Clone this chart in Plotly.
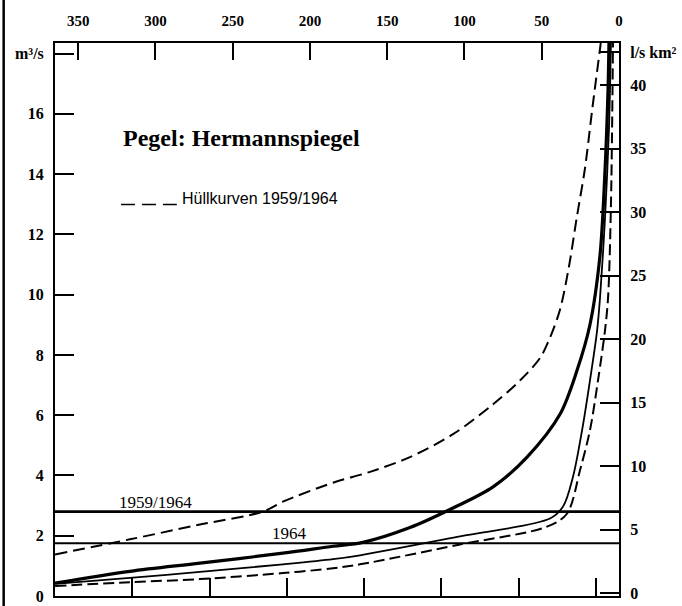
import plotly.graph_objects as go

# ---- data (x = Tage / days, counted from the right edge as on the top axis; y = Abfluss m³/s)
DAYS = 365

upper_env_days = [365, 316.5, 271.2, 230.4, 217.5, 185.1, 161.1, 135.3, 107.4, 81.5, 64.1,
                  51.1, 44.7, 38.2, 32.5, 27.2, 22.0, 17.2, 11.8]
upper_env_q = [1.38, 1.88, 2.37, 2.80, 3.13, 3.76, 4.12, 4.61, 5.37, 6.36, 7.15,
               7.90, 8.57, 9.50, 10.9, 12.6, 14.2, 16.2, 18.35]

curve_1959_64_days = [365, 316.5, 271.2, 217.5, 185.1, 165.7, 135.3, 109.4, 81.5, 59.5,
                      38.2, 27.2, 18.8, 12.3, 9.1, 7.1, 6.5]
curve_1959_64_q = [0.43, 0.82, 1.09, 1.42, 1.65, 1.78, 2.27, 2.87, 3.62, 4.61,
                   6.03, 7.48, 9.00, 11.3, 14.07, 16.8, 18.35]

curve_1964_days = [365, 316.5, 271.2, 217.5, 185.1, 167.6, 102.9, 44.7, 36.2, 29.8,
                   23.9, 18.8, 14.2, 12.3, 9.1, 6.5, 5.2]
curve_1964_q = [0.40, 0.60, 0.80, 1.05, 1.22, 1.35, 1.98, 2.57, 2.97, 3.95,
                5.50, 7.15, 8.80, 9.88, 12.5, 15.5, 18.35]

lower_env_days = [365, 316.5, 271.2, 217.5, 185.1, 167.6, 102.9, 46.6, 33.7, 25.2,
                  18.8, 13.6, 9.1, 7.1, 5.2, 3.9]
lower_env_q = [0.33, 0.46, 0.56, 0.76, 0.92, 1.05, 1.71, 2.30, 2.73, 4.18,
               5.50, 7.15, 8.80, 9.88, 13.0, 18.35]

mq_1959_64 = 2.80   # Mittelwasser 1959/1964
mq_1964 = 1.75      # Mittelwasser 1964

top_tick_vals = [350, 300, 250, 200, 150, 100, 50, 0]
top_tick_text = ["350", "300", "250", "200", "150", "100", "50", "0"]
bottom_tick_vals = [315, 265, 215, 165, 115, 65, 15]
left_tick_vals = [0, 2, 4, 6, 8, 10, 12, 14, 16, 18]
left_tick_text = ["0", "2", "4", "6", "8", "10", "12", "14", "16", "m³/s"]
right_tick_vals = [0, 5, 10, 15, 20, 25, 30, 35, 40, 42.6]
right_tick_text = ["0", "5", "10", "15", "20", "25", "30", "35", "40", "l/s km²"]

Y_RANGE = [0, 18.35]
Y2_RANGE = [-0.2, 43.3]

title_text = "Pegel: Hermannspiegel"
legend_text = "Hüllkurven 1959/1964"

# ---- figure
serif = "Liberation Serif"
tickfont = dict(family=serif, size=16, color="black", weight="bold")
smooth = dict(shape="spline", smoothing=0.9)

fig = go.Figure()
line_days = [DAYS, 0]
fig.add_trace(go.Scatter(x=line_days, y=[mq_1959_64, mq_1959_64], mode="lines",
                         line=dict(color="black", width=2.6), hoverinfo="skip"))
fig.add_trace(go.Scatter(x=line_days, y=[mq_1964, mq_1964], mode="lines",
                         line=dict(color="black", width=2.2), hoverinfo="skip"))
fig.add_trace(go.Scatter(x=upper_env_days, y=upper_env_q, mode="lines",
                         line=dict(color="black", width=2.0, dash="12px,6px", **smooth)))
fig.add_trace(go.Scatter(x=lower_env_days, y=lower_env_q, mode="lines",
                         line=dict(color="black", width=2.0, dash="11px,5px", **smooth)))
fig.add_trace(go.Scatter(x=curve_1964_days, y=curve_1964_q, mode="lines",
                         line=dict(color="black", width=1.8, **smooth)))
fig.add_trace(go.Scatter(x=curve_1959_64_days, y=curve_1959_64_q, mode="lines",
                         line=dict(color="black", width=3.2, **smooth)))
# invisible helper trace so the top (days) and right (l/s km²) axes are drawn
fig.add_trace(go.Scatter(x=[DAYS, 0], y=Y2_RANGE, xaxis="x2", yaxis="y2", mode="markers",
                         marker=dict(opacity=0), hoverinfo="skip"))

fig.update_layout(
    width=682, height=606,
    margin=dict(l=55, r=63, t=43, b=10, autoexpand=False),
    paper_bgcolor="white", plot_bgcolor="white",
    showlegend=False,
    xaxis=dict(range=[DAYS, 0], tickvals=bottom_tick_vals, ticks="inside", ticklen=18,
               tickwidth=1.5, tickcolor="black", showticklabels=False, showgrid=False,
               automargin=False,
               zeroline=False, showline=True, linecolor="black", linewidth=2),
    xaxis2=dict(range=[DAYS, 0], overlaying="x", side="top", anchor="y2",
                tickvals=top_tick_vals, ticktext=top_tick_text, ticks="inside", ticklen=17,
                tickwidth=1.5, tickcolor="black", tickfont=dict(family=serif, size=15,
                color="black", weight="bold"), ticklabelstandoff=9, showgrid=False,
                automargin=False,
                zeroline=False, showline=True, linecolor="black", linewidth=2),
    yaxis=dict(range=Y_RANGE, tickvals=left_tick_vals, ticktext=left_tick_text,
               ticks="inside", ticklen=19, tickwidth=1.5, tickcolor="black",
               tickfont=tickfont, ticklabelstandoff=6, ticklabeloverflow="allow",
               showgrid=False, zeroline=False, automargin=False,
               showline=True, linecolor="black", linewidth=2),
    yaxis2=dict(range=Y2_RANGE, overlaying="y", side="right", anchor="x2",
                tickvals=right_tick_vals, ticktext=right_tick_text, ticks="inside",
                ticklen=19, tickwidth=1.5, tickcolor="black", tickfont=tickfont,
                ticklabelstandoff=6, ticklabeloverflow="allow", showgrid=False,
                automargin=False,
                zeroline=False, showline=True, linecolor="black", linewidth=2),
    annotations=[
        dict(text=title_text, xref="paper", yref="paper", x=0.117, y=0.828,
             xanchor="left", yanchor="middle", showarrow=False,
             font=dict(family=serif, size=24, color="black", weight="bold")),
        dict(text=legend_text, xref="paper", yref="paper", x=0.222, y=0.718,
             xanchor="left", yanchor="middle", showarrow=False,
             font=dict(family="Liberation Sans", size=16, color="black")),
        dict(text="1959/1964", xref="x", yref="y", x=300, y=mq_1959_64,
             xanchor="center", yanchor="bottom", yshift=-2, showarrow=False,
             font=dict(family=serif, size=17, color="black")),
        dict(text="1964", xref="x", yref="y", x=213, y=mq_1964,
             xanchor="center", yanchor="bottom", yshift=-2, showarrow=False,
             font=dict(family=serif, size=17, color="black")),
    ],
    shapes=[
        dict(type="line", xref="paper", yref="paper", x0=-0.091, x1=-0.091, y0=-0.02,
             y1=1.08, line=dict(color="black", width=2.5)),
        dict(type="line", xref="paper", yref="paper", x0=0.117, x1=0.216, y0=0.708,
             y1=0.708, line=dict(color="black", width=1.6, dash="14px,7px")),
    ],
)

fig.write_html("out.html")
